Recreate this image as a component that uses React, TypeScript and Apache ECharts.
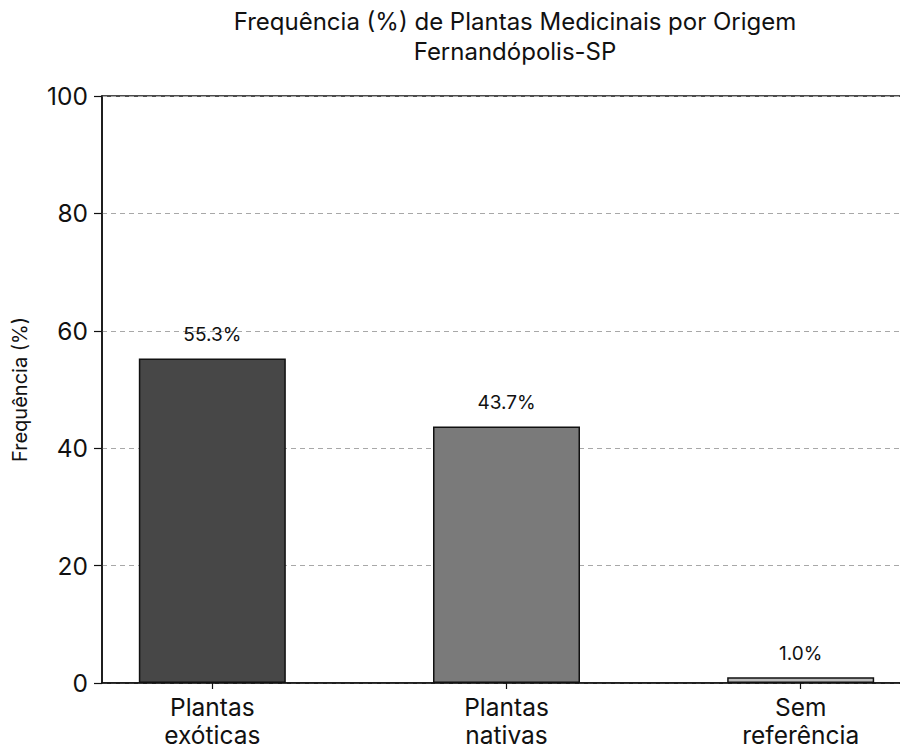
import React, { useEffect, useRef } from "react";
import * as echarts from "echarts";

const categories = ["Plantas\nexóticas", "Plantas\nnativas", "Sem\nreferência"];
const positions = [0, 1, 2];
const values = [55.3, 43.7, 1.0];
const barColors = ["#474747", "#7a7a7a", "#bcbcbc"];
const yTicks = [0, 20, 40, 60, 80, 100];

const FONT = "Inter, 'Noto Sans', sans-serif";

export default function App() {
  const ref = useRef<HTMLDivElement>(null);
  useEffect(() => {
    const chart = echarts.init(ref.current!, null, { renderer: "svg" });
    chart.setOption({
      animation: false,
      backgroundColor: "#ffffff",
      title: {
        text: "Frequência (%) de Plantas Medicinais por Origem\nFernandópolis-SP",
        left: 510,
        textAlign: "center",
        top: 1,
        textStyle: {
          fontFamily: FONT,
          fontSize: 24,
          fontWeight: "normal",
          color: "#111",
          lineHeight: 30,
        },
      },
      grid: {
        left: 102,
        width: 809,
        top: 96,
        height: 588,
        show: true,
        borderColor: "#111",
        borderWidth: 1.5,
        backgroundColor: "transparent",
      },
      xAxis: {
        type: "value",
        min: -0.375,
        max: 2.375,
        axisLine: { show: true, onZero: false, lineStyle: { color: "#111", width: 1.5 } },
        axisTick: { show: true, customValues: positions, length: 6, lineStyle: { color: "#111", width: 1.2 } },
        axisLabel: {
          customValues: positions,
          formatter: (v: number) => categories[Math.round(v)],
          fontFamily: FONT,
          fontSize: 24.5,
          color: "#111",
          lineHeight: 28,
          margin: 10,
        },
        splitLine: { show: false },
      },
      yAxis: {
        type: "value",
        min: 0,
        max: 100,
        interval: 20,
        name: "Frequência (%)",
        nameLocation: "middle",
        nameGap: 72,
        nameTextStyle: { fontFamily: FONT, fontSize: 20, color: "#111" },
        axisLine: { show: true, onZero: false, lineStyle: { color: "#111", width: 1.5 } },
        axisTick: { show: true, length: 8, lineStyle: { color: "#111", width: 1.2 } },
        axisLabel: {
          fontFamily: FONT,
          fontSize: 24.5,
          color: "#111",
          margin: 14,
          formatter: (v: number) => (yTicks.includes(v) ? String(v) : ""),
        },
        splitLine: {
          show: true,
          lineStyle: { color: "#a8a8a8", type: [5, 4], width: 1 },
        },
      },
      series: [
        {
          type: "bar",
          barWidth: 147,
          data: values.map((v, i) => ({
            value: [positions[i], v],
            itemStyle: { color: barColors[i], borderColor: "#111", borderWidth: 1.5 },
          })),
          label: {
            show: true,
            position: "top",
            distance: 14,
            fontFamily: FONT,
            fontSize: 19,
            color: "#111",
            formatter: (p: any) => p.value[1].toFixed(1) + "%",
          },
          z: 3,
        },
      ],
    });
    return () => chart.dispose();
  }, []);
  return (
    <div style={{ position: "fixed", left: 0, top: 0, width: 900, height: 749, overflow: "hidden", background: "#fff" }}>
      <div ref={ref} style={{ position: "absolute", left: 0, top: 0, width: 912, height: 749 }} />
    </div>
  );
}
